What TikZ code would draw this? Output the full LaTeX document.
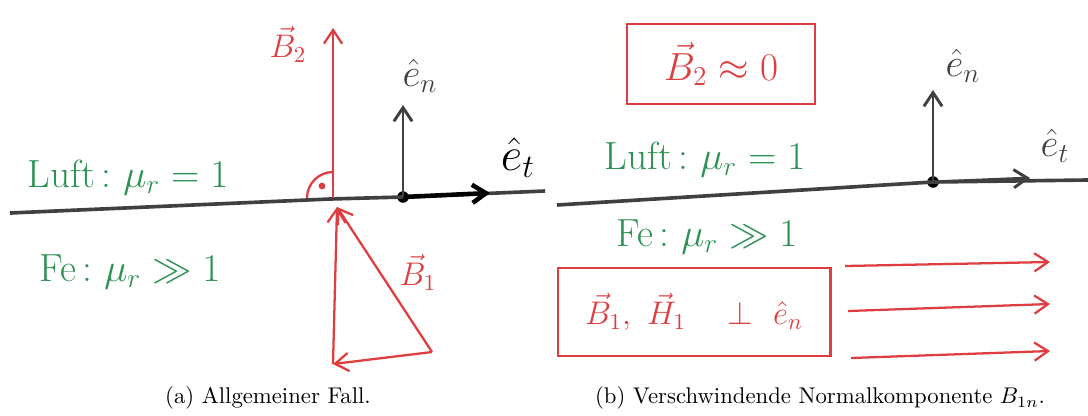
\documentclass[tikz,border=0pt]{standalone}
\usepackage{xcolor}
\usepackage{tikz}
\usetikzlibrary{arrows.meta, positioning, calc}
\definecolor{cred}  {RGB}{222,62,64}
\definecolor{cgreen}{RGB}{46,146,84}
\definecolor{cdark} {RGB}{64,64,64}
\tikzset{
  iface/.style={line width=1.6pt, color=cdark},
  vec/.style={-{Straight Barb[length=6pt,width=8pt]}, line width=1pt, color=cred},
  axis/.style={-{Straight Barb[length=6pt,width=8pt]}, line width=1.3pt, color=cdark},
  mat/.style={font=\LARGE, color=cgreen},
  rbox/.style={draw=cred, line width=1pt, text=cred, inner sep=2pt},
  captext/.style={font=\normalsize},
}

\begin{document}
\begin{tikzpicture}[x=0.44pt, y=-0.44pt]
  \useasboundingbox (0,0) rectangle (1088,415);

  % ── (a) interface and unit vectors ─────────────────────────────────────────
  \coordinate (ifL) at (10,213);
  \coordinate (ifM) at (330,199);
  \coordinate (ifR) at (545,191);
  \node[circle, fill=black, inner sep=1.8pt] (oA) at (403,197) {};
  \coordinate (etA) at (490,193);
  \coordinate (enA) at (403,105);
  \draw[iface] (ifL) -- (ifM) -- (oA.center) -- (ifR);
  \draw[axis, line width=2pt, color=black] (oA.center) -- (etA);
  \draw[axis] (oA.center) -- (enA);
  \node[font=\huge] (etlabA) at (518,158) {$\hat e_t$};
  \node[font=\LARGE, text=cdark] (enlabA) at (420,76) {$\hat e_n$};

  % ── (a) materials ──────────────────────────────────────────────────────────
  \node[mat] (luftA) at (128,178) {Luft\,:\ $\mu_r = 1$};
  \node[mat] (feA)   at (130,272) {Fe\,:\ $\mu_r \gg 1$};

  % ── (a) field vectors ──────────────────────────────────────────────────────
  \coordinate (footA) at (333,198);
  \coordinate (b2tip) at (333,28);
  \draw[vec] (footA) -- (b2tip);
  \node[font=\Large, text=cred] (b2lab) at (288,44) {$\vec B_2$};
  \draw[cred, line width=1pt] ($(footA)+(-26,0)$) arc[start angle=180, end angle=270, radius=26];
  \fill[cred] (322,186) circle (1.5pt);
  \coordinate (b1top)    at (337,207);
  \coordinate (b1corner) at (432,352);
  \coordinate (b1base)   at (333,364);
  \draw[vec] (b1corner) -- (b1top);
  \draw[vec] (b1corner) -- (b1base);
  \draw[vec] (b1base) -- (b1top);
  \node[font=\Large, text=cred] (b1lab) at (418,272) {$\vec B_1$};

  % ── (b) interface and unit vectors ─────────────────────────────────────────
  \coordinate (ifLb) at (557,205);
  \coordinate (ifRb) at (1088,180);
  \node[circle, fill=black, inner sep=1.8pt] (oB) at (933,182) {};
  \coordinate (etB) at (1030,178);
  \coordinate (enB) at (933,90);
  \draw[iface] (ifLb) -- (oB.center) -- (ifRb);
  \draw[axis] (oB.center) -- (etB);
  \draw[axis] (oB.center) -- (enB);
  \node[font=\LARGE, text=cdark] (etlabB) at (1055,146) {$\hat e_t$};
  \node[font=\LARGE, text=cdark] (enlabB) at (963,66)  {$\hat e_n$};

  % ── (b) materials and boxes ────────────────────────────────────────────────
  \node[mat] (luftB) at (705,160) {Luft\,:\ $\mu_r = 1$};
  \node[mat] (feB)   at (707,237) {Fe\,:\ $\mu_r \gg 1$};
  \node[rbox, font=\LARGE, minimum width=83pt, minimum height=35pt] (b2box) at (721,64)
      {$\vec B_2 \approx 0$};
  \node[rbox, font=\Large, minimum width=120pt, minimum height=39pt] (b1box) at (694,312)
      {$\vec B_1,\ \vec H_1\quad \perp\ \hat e_n$};

  % ── (b) field lines ────────────────────────────────────────────────────────
  \coordinate (fl1s) at (845,266);  \coordinate (fl1e) at (1050,262);
  \coordinate (fl2s) at (848,311);  \coordinate (fl2e) at (1050,304);
  \coordinate (fl3s) at (851,358);  \coordinate (fl3e) at (1050,351);
  \draw[vec] (fl1s) -- (fl1e);
  \draw[vec] (fl2s) -- (fl2e);
  \draw[vec] (fl3s) -- (fl3e);

  % ── captions ───────────────────────────────────────────────────────────────
  \node[captext] (capA) at (268,398) {(a) Allgemeiner Fall.};
  \node[captext] (capB) at (820,398) {(b) Verschwindende Normalkomponente $B_{1n}$.};
\end{tikzpicture}
\end{document}
